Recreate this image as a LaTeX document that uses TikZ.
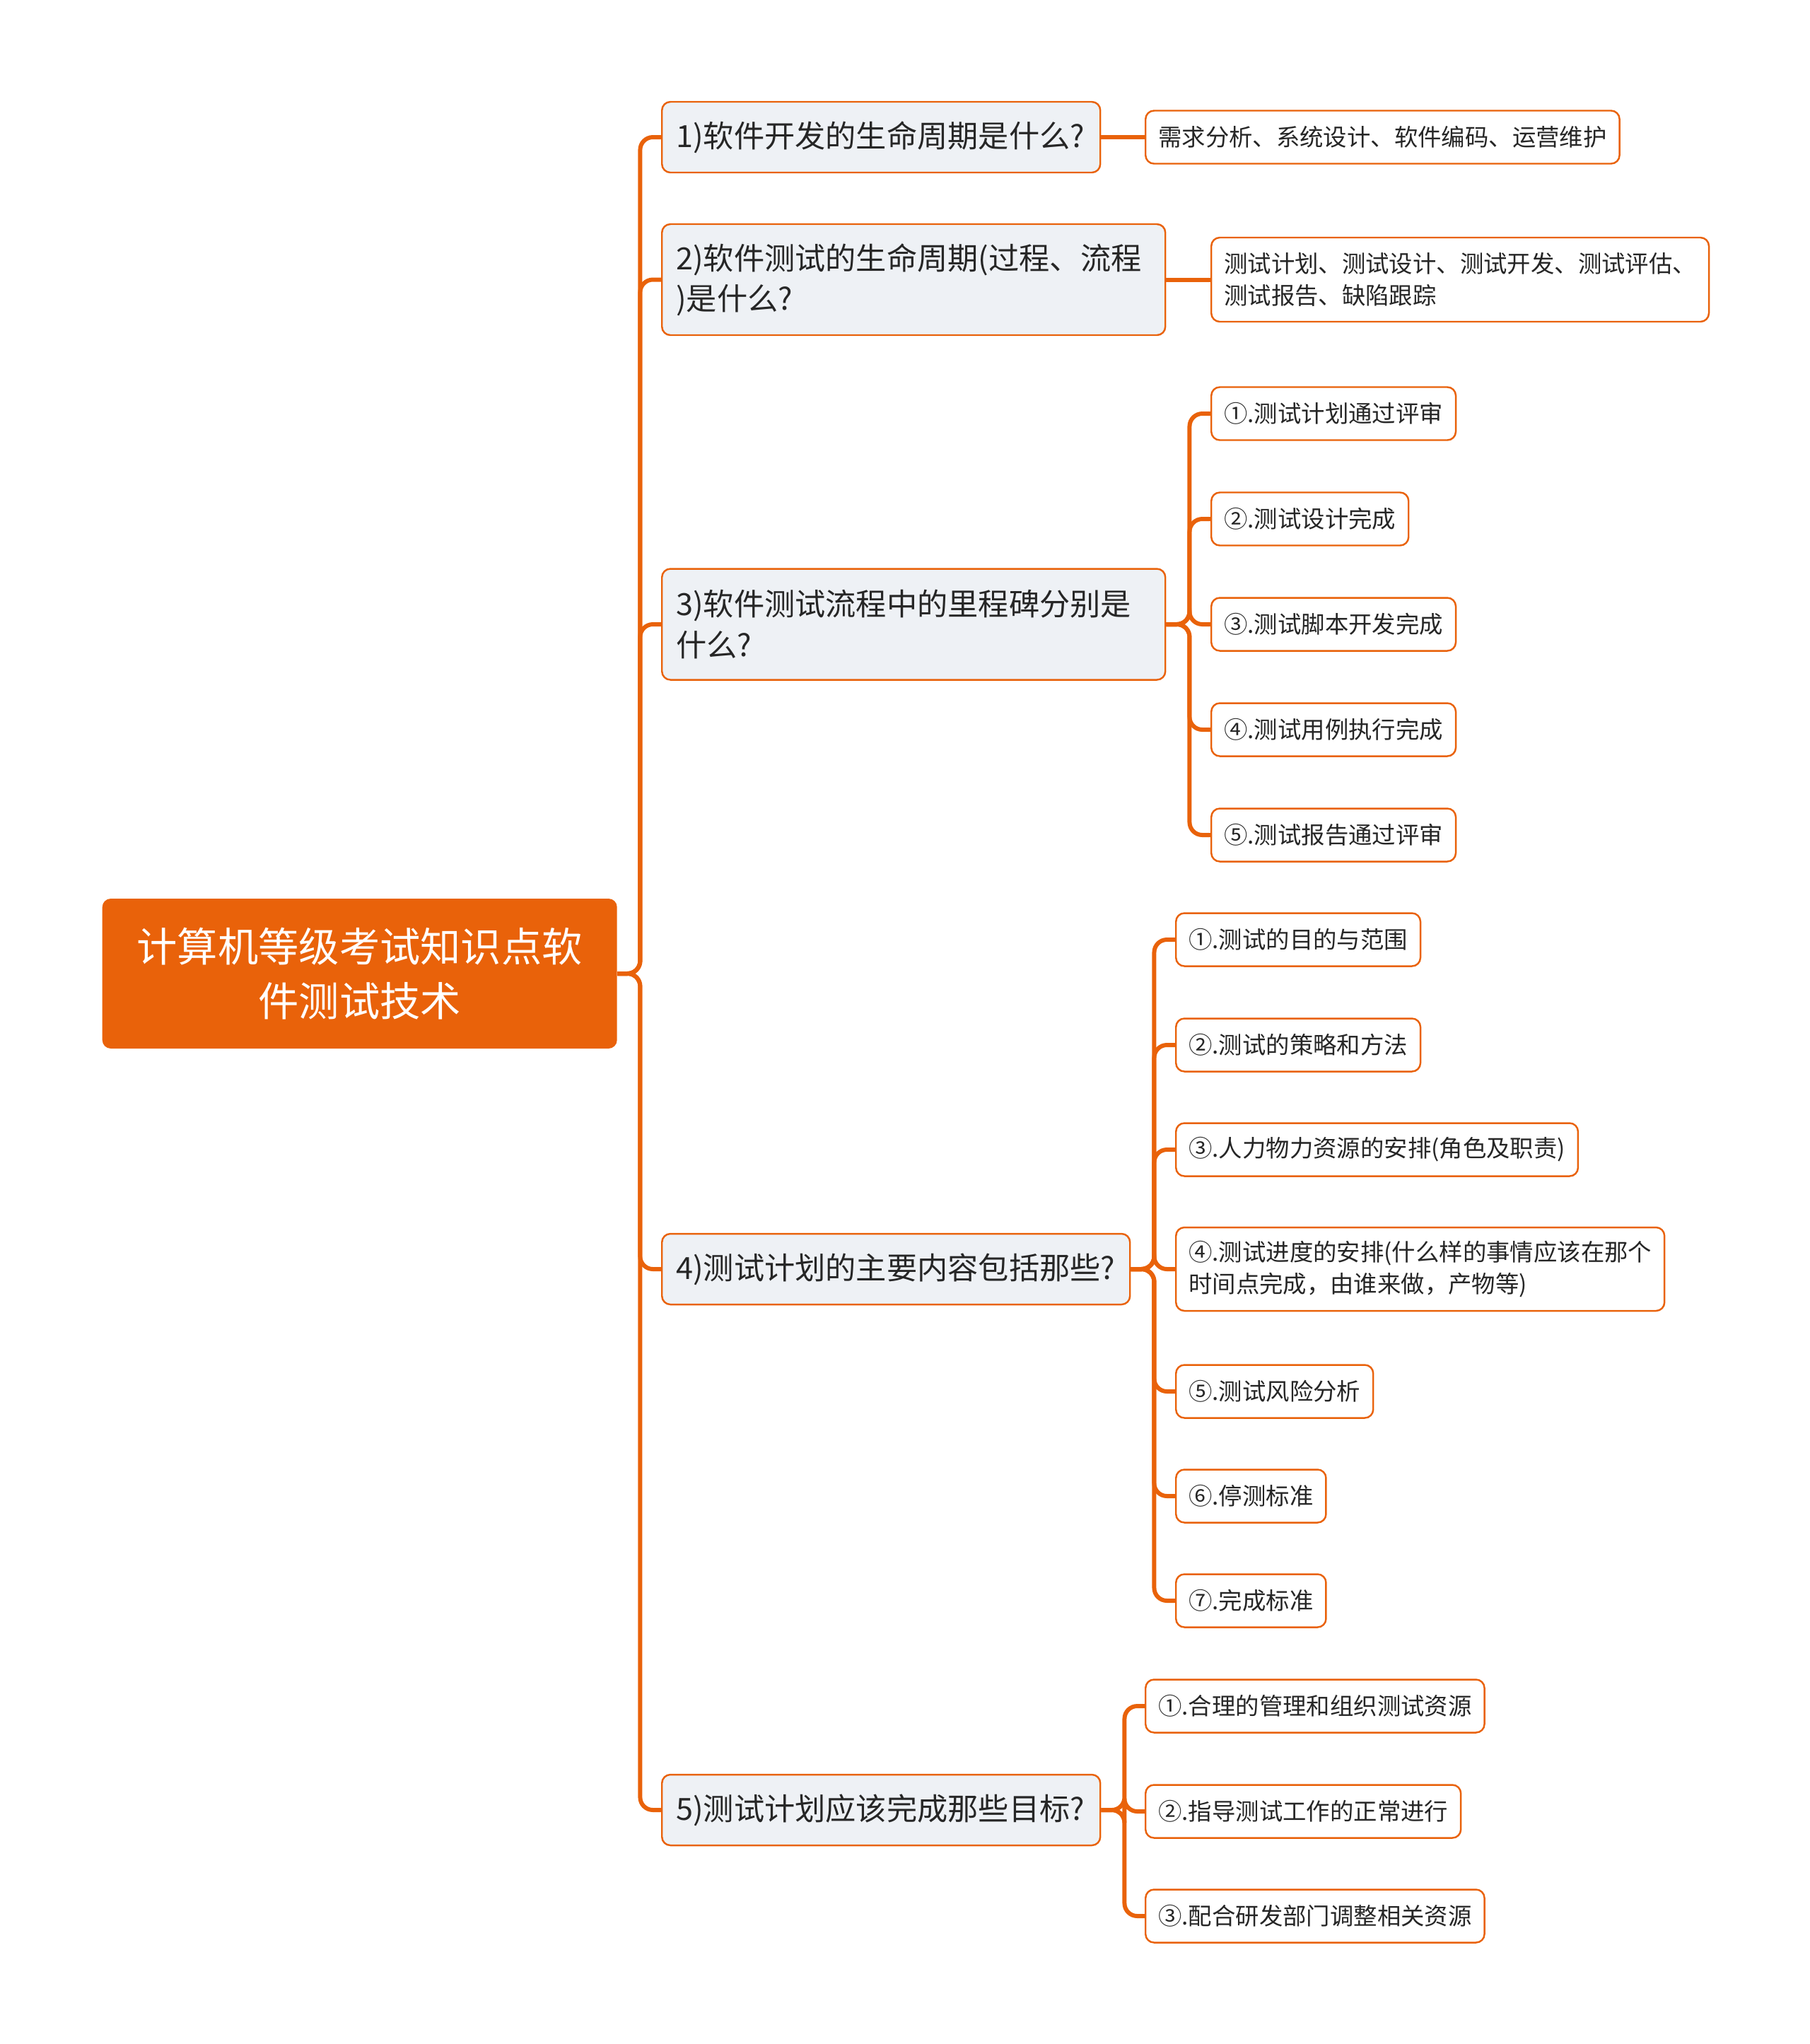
\documentclass[tikz,border=0pt]{standalone}
\usepackage{fontspec}
\setmainfont{Noto Sans CJK SC}
\definecolor{brand}{RGB}{233,98,10}
\definecolor{qfill}{RGB}{238,241,245}
\definecolor{ink}{RGB}{38,38,38}
\tikzset{
  root/.style={fill=brand, rounded corners=0.12cm, text=white, font=\fontsize{16.3}{22}\selectfont, align=center, minimum width=7.28cm, minimum height=2.12cm, anchor=west},
  qbox/.style={draw=brand, line width=0.7pt, fill=qfill, rounded corners=0.12cm, text=ink, font=\fontsize{12.3}{16.3}\selectfont, align=left, inner xsep=0.2cm, anchor=west},
  leaf/.style={draw=brand, line width=0.7pt, fill=white, rounded corners=0.12cm, text=ink, font=\fontsize{9.5}{12.6}\selectfont, align=left, inner xsep=0.18cm, minimum height=0.75cm, anchor=west},
  link/.style={draw=brand, line width=1.7pt, rounded corners=0.18cm}
}
\begin{document}
\begin{tikzpicture}
\useasboundingbox (0,0) rectangle (25.6,-28.91);
\node[root] (r) at (1.44,-13.77) {计算机等级考试知识点软\\件测试技术};
\node[qbox, text width=5.80cm, minimum height=1.0cm] (q1) at (9.35,-1.94) {1)软件开发的生命周期是什么?};
\node[qbox, text width=6.72cm, minimum height=1.57cm] (q2) at (9.35,-3.955) {2)软件测试的生命周期(过程、流程\\)是什么?};
\node[qbox, text width=6.72cm, minimum height=1.57cm] (q3) at (9.35,-8.83) {3)软件测试流程中的里程碑分别是\\什么?};
\node[qbox, text width=6.22cm, minimum height=1.0cm] (q4) at (9.35,-17.95) {4)测试计划的主要内容包括那些?};
\node[qbox, text width=5.80cm, minimum height=1.0cm] (q5) at (9.35,-25.60) {5)测试计划应该完成那些目标?};
% answers
\node[leaf] (a1) at (16.19,-1.94) {需求分析、系统设计、软件编码、运营维护};
\node[leaf, minimum height=1.19cm] (b1) at (17.12,-3.955) {测试计划、测试设计、测试开发、测试评估、\\测试报告、缺陷跟踪};
\node[leaf] (c1) at (17.12,-5.85) {①.测试计划通过评审};
\node[leaf] (c2) at (17.12,-7.34) {②.测试设计完成};
\node[leaf] (c3) at (17.12,-8.83) {③.测试脚本开发完成};
\node[leaf] (c4) at (17.12,-10.32) {④.测试用例执行完成};
\node[leaf] (c5) at (17.12,-11.81) {⑤.测试报告通过评审};
\node[leaf] (d1) at (16.62,-13.29) {①.测试的目的与范围};
\node[leaf] (d2) at (16.62,-14.78) {②.测试的策略和方法};
\node[leaf] (d3) at (16.62,-16.26) {③.人力物力资源的安排(角色及职责)};
\node[leaf, minimum height=1.18cm] (d4) at (16.62,-17.95) {④.测试进度的安排(什么样的事情应该在那个\\时间点完成，由谁来做，产物等)};
\node[leaf] (d5) at (16.62,-19.68) {⑤.测试风险分析};
\node[leaf] (d6) at (16.62,-21.16) {⑥.停测标准};
\node[leaf] (d7) at (16.62,-22.64) {⑦.完成标准};
\node[leaf] (e1) at (16.19,-24.13) {①.合理的管理和组织测试资源};
\node[leaf] (e2) at (16.19,-25.62) {②.指导测试工作的正常进行};
\node[leaf] (e3) at (16.19,-27.10) {③.配合研发部门调整相关资源};
% branches
\foreach \q in {q1,q2,q3,q4,q5}
  \draw[link] (r.east) -- ++(0.32,0) |- (\q.west);
\draw[link] (q1.east) -- (a1.west);
\draw[link] (q2.east) -- (b1.west);
\foreach \c in {c1,c2,c3,c4,c5}
  \draw[link] (q3.east) -- ++(0.33,0) |- (\c.west);
\foreach \d in {d1,d2,d3,d4,d5,d6,d7}
  \draw[link] (q4.east) -- ++(0.33,0) |- (\d.west);
\foreach \e in {e1,e2,e3}
  \draw[link] (q5.east) -- ++(0.33,0) |- (\e.west);
\end{tikzpicture}
\end{document}
